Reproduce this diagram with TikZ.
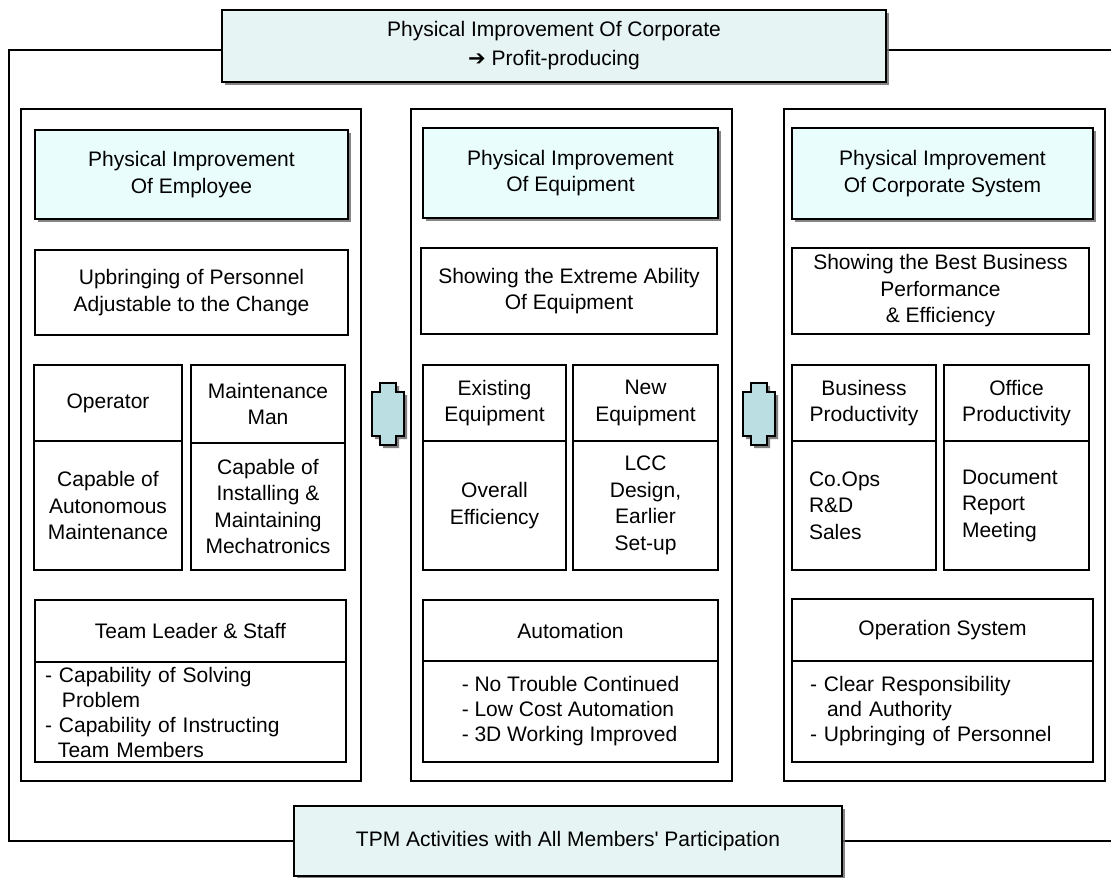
\documentclass[tikz,border=0pt]{standalone}
\usepackage{fontspec}
\setmainfont{Liberation Sans}
\newfontfamily\symfont{DejaVu Sans}
\usepackage{tikz}
\usetikzlibrary{positioning,shadows}
\pgfdeclarelayer{bg}
\pgfsetlayers{bg,main}
\definecolor{Top-Fill}{RGB}{231,244,244}
\definecolor{Head-Fill}{RGB}{234,253,253}
\definecolor{Hub-Fill}{RGB}{186,222,226}
\def\hubpath{(-8,-31) -- (8,-31) -- (8,-22) -- (16,-22) -- (16,22) -- (8,22) -- (8,31) -- (-8,31) -- (-8,22) -- (-16,22) -- (-16,-22) -- (-8,-22) -- cycle}
\tikzset{
  box/.style={rectangle, draw=black, line width=1.2pt, inner sep=0pt, outer sep=0pt, anchor=north west, align=center},
  topbox/.style={box, fill=Top-Fill, drop shadow={shadow xshift=3pt, shadow yshift=-3pt, fill=black!60, opacity=0.8}},
  headbox/.style={box, fill=Head-Fill, drop shadow={shadow xshift=3pt, shadow yshift=-3pt, fill=black!60, opacity=0.8}},
  frame/.style={draw=black, line width=1.2pt},
  hub/.pic={
    \fill[black!50, shift={(3,3)}] \hubpath;
    \draw[line width=1.2pt, fill=Hub-Fill] \hubpath;
  }
}

\begin{document}
\begin{tikzpicture}[x=1pt, y=-1pt, font=\fontsize{21}{26.5}\selectfont]

\useasboundingbox (0,0) rectangle (1111,878);

\node[topbox, minimum width=664pt, minimum height=72pt, font=\fontsize{21}{29}\selectfont] (corp) at (222,10) {Physical Improvement Of Corporate\\{\symfont ➔} Profit-producing};

\node[topbox, minimum width=548pt, minimum height=70pt] (tpm) at (294,806) {TPM Activities with All Members\textquotesingle{} Participation};

\coordinate (frameL) at (9,400);
\coordinate (frameR) at (1111,400);

\begin{pgfonlayer}{bg}
\draw[frame] ([yshift=-4pt]corp.west) -| (frameL) |- (tpm.west);
\draw[frame] ([yshift=-4pt]corp.east) -- ([yshift=-4pt]corp.east -| frameR);
\draw[frame] (tpm.east) -- (tpm.east -| frameR);
\end{pgfonlayer}

\node[box, minimum width=340pt, minimum height=672pt] (empCol) at (21,109) {};
\node[box, minimum width=321pt, minimum height=672pt] (eqCol) at (411,109) {};
\node[box, minimum width=321pt, minimum height=672pt] (sysCol) at (784,109) {};

\node[headbox, minimum width=313pt, minimum height=89pt] (empHead) at (35,130) {Physical Improvement\\Of Employee};
\node[headbox, minimum width=295pt, minimum height=90pt] (eqHead) at (423,128) {Physical Improvement\\Of Equipment};
\node[headbox, minimum width=301pt, minimum height=91pt] (sysHead) at (792,128) {Physical Improvement\\Of Corporate System};

\node[box, minimum width=313pt, minimum height=85pt] (empGoal) at (35,250) {Upbringing of Personnel\\Adjustable to the Change};
\node[box, minimum width=296pt, minimum height=86pt] (eqGoal) at (421,248) {Showing the Extreme Ability\\Of Equipment};
\node[box, minimum width=297pt, minimum height=86pt] (sysGoal) at (792,248) {Showing the Best Business\\Performance\\\& Efficiency};

\node[box, minimum width=148pt, minimum height=76pt] (oper) at (34,365) {Operator};
\node[box, minimum width=148pt, minimum height=129pt, below=0pt of oper] (operSkill) {Capable of\\Autonomous\\Maintenance};

\node[box, minimum width=154pt, minimum height=78pt] (maint) at (191,365) {Maintenance\\Man};
\node[box, minimum width=154pt, minimum height=127pt, below=0pt of maint] (maintSkill) {Capable of\\Installing \&\\Maintaining\\Mechatronics};

\node[box, minimum width=143pt, minimum height=76pt] (oldEq) at (423,365) {Existing\\Equipment};
\node[box, minimum width=143pt, minimum height=129pt, below=0pt of oldEq] (oldEqGoal) {Overall\\Efficiency};

\node[box, minimum width=145pt, minimum height=76pt] (newEq) at (573,365) {New\\Equipment};
\node[box, minimum width=145pt, minimum height=129pt, below=0pt of newEq] (newEqGoal) {LCC\\Design,\\Earlier\\Set-up};

\node[box, minimum width=144pt, minimum height=76pt] (busProd) at (792,365) {Business\\Productivity};
\node[box, minimum width=144pt, minimum height=129pt, below=0pt of busProd, text width=110pt, align=left] (busList) {Co.Ops\\R\&D\\Sales};

\node[box, minimum width=145pt, minimum height=76pt] (offProd) at (944,365) {Office\\Productivity};
\node[box, minimum width=145pt, minimum height=129pt, below=0pt of offProd, text width=109pt, align=left] (offList) {Document\\Report\\Meeting};

\node[box, minimum width=311pt, minimum height=62pt] (lead) at (35,600) {Team Leader \& Staff};
\node[box, minimum width=311pt, minimum height=100pt, below=0pt of lead, text width=291pt, align=left, font=\fontsize{21}{25}\selectfont] (leadSkill) {- Capability of Solving\\\hspace*{17pt}Problem\\- Capability of Instructing\\\hspace*{13pt}Team Members};

\node[box, minimum width=295pt, minimum height=61pt] (auto) at (423,600) {Automation};
\node[box, minimum width=295pt, minimum height=101pt, below=0pt of auto, align=left, font=\fontsize{21}{25}\selectfont] (autoGoal) {- No Trouble Continued\\- Low Cost Automation\\- 3D Working Improved};

\node[box, minimum width=301pt, minimum height=62pt] (opSys) at (792,599) {Operation System};
\node[box, minimum width=301pt, minimum height=101pt, below=0pt of opSys, text width=265pt, align=left, font=\fontsize{21}{25}\selectfont] (opSysGoal) {- Clear Responsibility\\\hspace*{17pt}and Authority\\- Upbringing of Personnel};

\path (388,414) pic {hub};
\path (759,414) pic {hub};

\end{tikzpicture}
\end{document}
